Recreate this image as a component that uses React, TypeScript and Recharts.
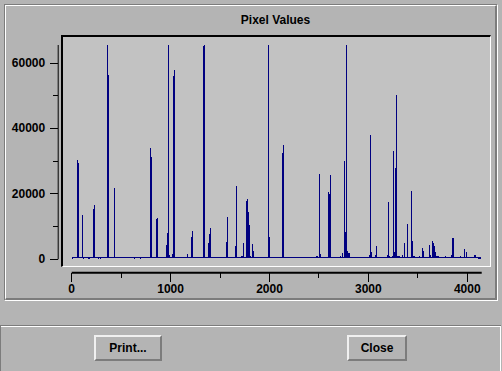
import { LineChart, Line, XAxis, YAxis } from "recharts";

const peakChannels = [
  4, 12, 20, 28, 36, 54, 64, 107, 124, 165, 185, 218, 228, 276, 296, 360, 370,
  431, 630, 700, 795, 805, 855, 865, 956, 966, 976, 986, 1016, 1027, 1037, 1168,
  1209, 1219, 1330, 1340, 1380, 1391, 1401, 1563, 1573, 1654, 1664, 1715, 1725,
  1741, 1765, 1775, 1785, 1795, 1805, 1825, 1835, 1987, 1997, 2129, 2139, 2480,
  2490, 2503, 2513, 2594, 2604, 2614, 2720, 2735, 2755, 2765, 2775, 2785, 2795,
  2805, 3008, 3018, 3028, 3069, 3079, 3190, 3200, 3210, 3240, 3250, 3260, 3270,
  3281, 3291, 3301, 3311, 3342, 3362, 3392, 3432, 3442, 3452, 3462, 3520, 3543,
  3553, 3614, 3624, 3645, 3655, 3665, 3675, 3685, 3695, 3705, 3780, 3837, 3847,
  3857, 3930, 3968, 3988, 4069, 4079, 4106, 4114, 4122, 4130,
];
const peakCounts = [
  0, 0, 300, 300, 300, 30400, 29400, 13550, 200, 200, 200, 15400, 16600, 200,
  200, 65535, 56400, 21800, 200, 200, 34000, 31300, 12300, 12600, 4400, 8000,
  65535, 1200, 1500, 56000, 57900, 1600, 6800, 8600, 65300, 65535, 5000, 7700,
  9600, 5300, 12900, 4100, 22400, 1000, 1000, 5000, 17800, 18400, 14500, 10500,
  1000, 4700, 2500, 65535, 6800, 32500, 35000, 1000, 1000, 26100, 1500, 20600,
  20000, 25800, 1000, 2000, 30100, 8400, 65535, 2500, 2000, 2000, 1300, 38000,
  2200, 1300, 4100, 1300, 17500, 1000, 1000, 33100, 2200, 27900, 50200, 1000,
  1000, 1000, 1300, 5000, 10800, 20900, 5600, 1000, 1000, 1000, 3500, 2500,
  4400, 1300, 5600, 5000, 4100, 2200, 1000, 1000, 1000, 1000, 1300, 6500, 6500,
  1000, 3100, 2200, 1300, 1300, 400, 0, 0, 0,
];
const baseline = 600;

const xTicks = [0, 500, 1000, 1500, 2000, 2500, 3000, 3500, 4000];
const yTicks = [0, 10000, 20000, 30000, 40000, 50000, 60000];

// each spike is drawn as a vertical stroke up from the baseline and back down
const data: { channel: number; count: number }[] = [];
peakChannels.forEach((c, i) => {
  data.push({ channel: c, count: baseline });
  data.push({ channel: c, count: peakCounts[i] });
  data.push({ channel: c, count: baseline });
});

const BG = "#b4b4b4";
const DARK = "#7c7c7c";
const font = {
  fontFamily: "'Liberation Sans', Arial, sans-serif",
  fontWeight: 700,
  fontSize: 12,
};

const YTick = (props: any) => {
  const { x, y, payload } = props;
  const major = payload.value % 20000 === 0;
  const ax = x - 13.5;
  return (
    <g>
      <line x1={ax - (major ? 8 : 5)} x2={ax} y1={y} y2={y} stroke="#000" shapeRendering="crispEdges" />
      {major && (
        <text x={ax - 13} y={y} dy={4} textAnchor="end" fill="#000" {...font}>
          {payload.value}
        </text>
      )}
    </g>
  );
};

const XTick = (props: any) => {
  const { x, y, payload } = props;
  const major = payload.value % 1000 === 0;
  const ay = y + 13.5;
  return (
    <g>
      <line x1={x} x2={x} y1={ay} y2={ay + (major ? 9 : 5)} stroke="#000" shapeRendering="crispEdges" />
      {major && (
        <text x={x} y={ay + 20} textAnchor="middle" fill="#000" {...font}>
          {payload.value}
        </text>
      )}
    </g>
  );
};

const Button = ({ left, width, label }: { left: number; width: number; label: string }) => (
  <div
    style={{
      position: "absolute",
      left,
      top: 335,
      width,
      height: 26,
      boxSizing: "border-box",
      borderTop: "2px solid #f0f0f0",
      borderLeft: "2px solid #f0f0f0",
      borderBottom: `2px solid ${DARK}`,
      borderRight: `2px solid ${DARK}`,
      textAlign: "center",
      lineHeight: "22px",
      ...font,
    }}
  >
    {label}
  </div>
);

export default function App() {
  return (
    <div style={{ position: "absolute", left: 0, top: 0, width: 502, height: 371, background: BG, overflow: "hidden" }}>
      <style>{".recharts-line-curve{shape-rendering:crispEdges}"}</style>
      {/* etched frame around the plot */}
      <div
        style={{
          position: "absolute",
          left: 4,
          top: 4,
          width: 494,
          height: 297,
          boxSizing: "border-box",
          borderTop: `1px solid ${DARK}`,
          borderLeft: `1px solid ${DARK}`,
          borderBottom: "1px solid #fff",
          borderRight: "1px solid #fff",
        }}
      >
        <div
          style={{
            width: "100%",
            height: "100%",
            boxSizing: "border-box",
            borderTop: "1px solid #fff",
            borderLeft: "1px solid #fff",
            borderBottom: `2px solid ${DARK}`,
            borderRight: `2px solid ${DARK}`,
          }}
        />
      </div>
      <div
        style={{ position: "absolute", left: 61, top: 13, width: 429, textAlign: "center", lineHeight: "14px", ...font }}
      >
        Pixel Values
      </div>
      {/* plot box */}
      <div
        style={{
          position: "absolute",
          left: 61,
          top: 35,
          width: 430,
          height: 232,
          boxSizing: "border-box",
          background: "#c2c2c2",
          borderTop: "2px solid #000",
          borderLeft: "2px solid #000",
          borderBottom: "1px solid #fff",
          borderRight: "1px solid #fff",
        }}
      />
      <div style={{ position: "absolute", left: 0, top: 0 }}>
        <LineChart width={502} height={371} data={data} margin={{ top: 45, right: 20.3, bottom: 71.7, left: 11.7 }}>
          <XAxis
            type="number"
            dataKey="channel"
            domain={[0, 4146]}
            ticks={xTicks}
            interval={0}
            height={40}
            tickSize={0}
            tickMargin={0}
            tickLine={false}
            axisLine={{ stroke: "#000", strokeWidth: 2, transform: "translate(0,13.5)" }}
            tick={XTick}
          />
          <YAxis
            type="number"
            domain={[0, 65535]}
            ticks={yTicks}
            interval={0}
            width={60}
            tickSize={0}
            tickMargin={0}
            tickLine={false}
            axisLine={{ stroke: "#000", transform: "translate(-13.5,0)" }}
            tick={YTick}
          />
          <Line
            dataKey="count"
            type="linear"
            stroke="#000080"
            strokeWidth={1}
            dot={false}
            isAnimationActive={false}
          />
        </LineChart>
      </div>
      {/* button bar */}
      <div
        style={{
          position: "absolute",
          left: 0,
          top: 325,
          width: 501,
          height: 46,
          boxSizing: "border-box",
          borderTop: `1px solid ${DARK}`,
          borderLeft: `1px solid ${DARK}`,
        }}
      >
        <div
          style={{
            width: "100%",
            height: "100%",
            boxSizing: "border-box",
            borderTop: "1px solid #fff",
            borderRight: "1px solid #fff",
          }}
        />
      </div>
      <Button left={94} width={68} label="Print..." />
      <Button left={347} width={60} label="Close" />
    </div>
  );
}
